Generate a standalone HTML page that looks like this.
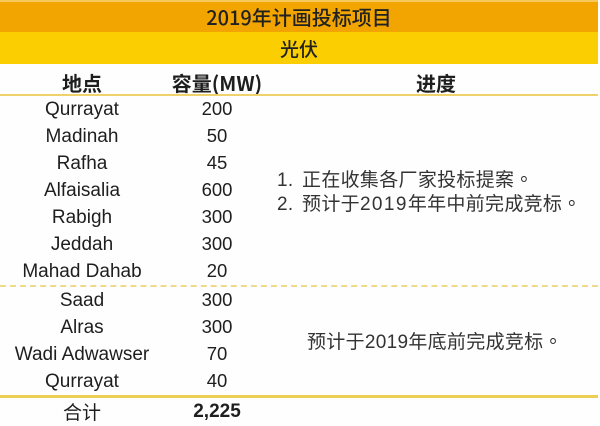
<!DOCTYPE html>
<html><head><meta charset="utf-8">
<style>
html,body{margin:0;padding:0;}
body{width:600px;height:424px;position:relative;overflow:hidden;background:#fefefe;font-family:"Liberation Sans","Noto Sans CJK SC",sans-serif;color:#1e1e1e;}
.abs{position:absolute;}
.band1{left:0;top:0;width:598px;height:32px;background:#F2A400;}
.strip{left:0;top:0;width:598px;height:2px;background:#F7C95A;}
.band2{left:0;top:32px;width:598px;height:32px;background:#FACE00;}
.t{position:absolute;text-align:center;white-space:nowrap;line-height:28px;height:28px;}
.c1{left:0;width:164px;font-size:19px;margin-top:1px;}
.c2{left:167px;width:100px;font-size:18.5px;}
.hline{left:0;top:94px;width:598px;height:2px;background:#EFD36A;}
.dline{left:0;top:285px;width:598px;height:0;border-top:2px dashed #EFD98A;}
.bline{left:0;top:395px;width:598px;height:3px;background:#EECF55;}
.note{position:absolute;font-family:"Liberation Sans","Noto Sans CJK TC",sans-serif;font-size:19px;color:#333;white-space:nowrap;line-height:24px;letter-spacing:0.3px;}
.d{letter-spacing:1.4px;}
.g{margin-left:3px;}
</style></head><body>
<div class="abs band1"></div>
<div class="abs strip"></div>
<div class="abs band2"></div>
<div class="t" style="left:0;width:598px;top:3px;font-size:20px;font-family:'Noto Sans CJK SC',sans-serif;font-weight:500;color:#222;">2019年计画投标项目</div>
<div class="t" style="left:0;width:598px;top:35px;font-size:19px;font-family:'Noto Sans CJK SC',sans-serif;font-weight:500;color:#222;">光伏</div>

<div class="t" style="left:0;width:164px;top:69px;font-size:20px;font-family:'Noto Sans CJK SC',sans-serif;font-weight:700;">地点</div>
<div class="t" style="left:167px;width:100px;top:69px;font-size:20px;font-family:'Noto Sans CJK SC',sans-serif;font-weight:700;">容量(MW)</div>
<div class="t" style="left:386px;width:100px;top:69px;font-size:20px;font-family:'Noto Sans CJK SC',sans-serif;font-weight:700;">进度</div>
<div class="abs hline"></div>

<div class="t c1" style="top:95px">Qurrayat</div><div class="t c2" style="top:95px">200</div>
<div class="t c1" style="top:122px">Madinah</div><div class="t c2" style="top:122px">50</div>
<div class="t c1" style="top:149px">Rafha</div><div class="t c2" style="top:149px">45</div>
<div class="t c1" style="top:176px">Alfaisalia</div><div class="t c2" style="top:176px">600</div>
<div class="t c1" style="top:203px">Rabigh</div><div class="t c2" style="top:203px">300</div>
<div class="t c1" style="top:230px">Jeddah</div><div class="t c2" style="top:230px">300</div>
<div class="t c1" style="top:257px">Mahad Dahab</div><div class="t c2" style="top:257px">20</div>
<div class="abs dline"></div>
<div class="t c1" style="top:286px">Saad</div><div class="t c2" style="top:286px">300</div>
<div class="t c1" style="top:313px">Alras</div><div class="t c2" style="top:313px">300</div>
<div class="t c1" style="top:340px">Wadi Adwawser</div><div class="t c2" style="top:340px">70</div>
<div class="t c1" style="top:367px">Qurrayat</div><div class="t c2" style="top:367px">40</div>
<div class="abs bline"></div>
<div class="t" style="left:0;width:164px;top:398px;font-size:19px;font-family:'Noto Sans CJK SC',sans-serif;">合计</div>
<div class="t" style="left:167px;width:100px;top:398px;font-size:19px;font-weight:bold;">2,225</div>

<div class="note" style="left:277px;top:169px;">1. <span class="g">正在收集各厂家投标提案。</span></div>
<div class="note" style="left:277px;top:193px;">2. <span class="g">预计于<span class="d">2019</span>年年中前完成竞标。</span></div>
<div class="note" style="left:307px;top:331px;">预计于2019年底前完成竞标。</div>
</body></html>
